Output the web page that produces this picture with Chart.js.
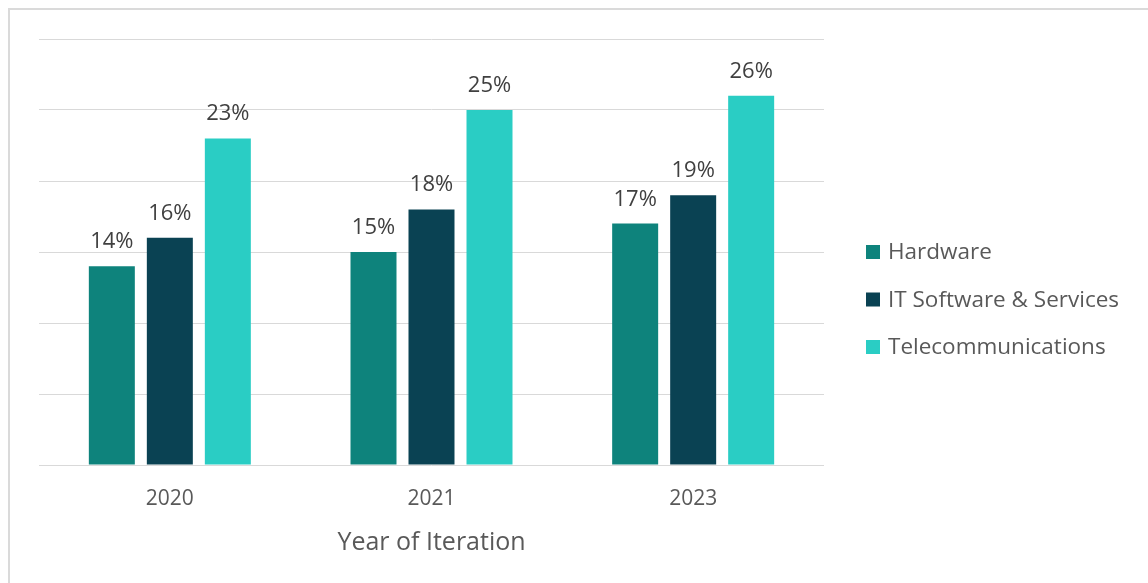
<!DOCTYPE html>
<html>
<head>
<meta charset="utf-8">
<script src="https://cdn.jsdelivr.net/npm/chart.js@4.4.1/dist/chart.umd.min.js"></script>
<style>
  html, body { margin: 0; padding: 0; background: #ffffff; }
  #wrap { position: relative; width: 1148px; height: 583px; overflow: hidden; }
  #frame { position: absolute; left: 8px; top: 8px; width: 1200px; height: 700px;
           border-top: 2px solid #dadada; border-left: 2px solid #dadada; box-sizing: border-box; }
  canvas { position: absolute; left: 0; top: 0; }
</style>
</head>
<body>
<div id="wrap">
  <div id="frame"></div>
  <canvas id="c" width="1148" height="583"></canvas>
</div>
<script>
const categories = ["2020", "2021", "2023"];
const seriesNames = ["Hardware", "IT Software & Services", "Telecommunications"];
const hardware = [14, 15, 17];
const itSoftware = [16, 18, 19];
const telecom = [23, 25, 26];
const seriesColors = ["#0E837C", "#0A4253", "#2ACDC4"];
const axisTitle = "Year of Iteration";

const FONT = "'Open Sans', 'Noto Sans', sans-serif";

const dataLabels = {
  id: 'dataLabels',
  afterDatasetsDraw(chart) {
    const ctx = chart.ctx;
    ctx.save();
    ctx.font = "22px " + FONT;
    ctx.fillStyle = "#404040";
    ctx.textAlign = "center";
    ctx.textBaseline = "alphabetic";
    chart.data.datasets.forEach((ds, di) => {
      const meta = chart.getDatasetMeta(di);
      meta.data.forEach((el, i) => {
        ctx.fillText(ds.data[i] + "%", el.x, el.y - 18);
      });
    });
    ctx.restore();
  }
};

const sideLegend = {
  id: 'sideLegend',
  afterDraw(chart) {
    const ctx = chart.ctx;
    const area = chart.chartArea;
    const x0 = area.right + 42;
    const yMid = (area.top + area.bottom) / 2;
    ctx.save();
    ctx.font = "22.5px " + FONT;
    ctx.textAlign = "left";
    ctx.textBaseline = "middle";
    chart.data.datasets.forEach((ds, i) => {
      const yc = yMid + i * 47.5;
      ctx.fillStyle = ds.backgroundColor;
      ctx.fillRect(x0, yc - 7, 14, 14);
      ctx.fillStyle = "#595959";
      ctx.fillText(ds.label, x0 + 22, yc + 1);
    });
    ctx.restore();
  }
};

const seriesData = [hardware, itSoftware, telecom];

new Chart(document.getElementById('c'), {
  type: 'bar',
  data: {
    labels: categories,
    datasets: seriesNames.map((name, i) => ({
      label: name,
      data: seriesData[i],
      backgroundColor: seriesColors[i],
      categoryPercentage: 0.665,
      barPercentage: 0.793
    }))
  },
  options: {
    responsive: false,
    animation: false,
    events: [],
    layout: { padding: { left: 39, top: 39, right: 324, bottom: 0 } },
    plugins: {
      legend: { display: false },
      tooltip: { enabled: false }
    },
    scales: {
      x: {
        grid: { display: false, drawTicks: false },
        border: { display: false },
        ticks: { color: "#595959", font: { family: FONT, size: 21 }, padding: 21 },
        title: { display: true, text: axisTitle, color: "#595959",
                 font: { family: FONT, size: 25 }, padding: { top: 0, bottom: 25 } },
        afterFit(scale) { scale.height = 118; }
      },
      y: {
        min: 0, max: 30,
        ticks: { display: false, stepSize: 5 },
        grid: { color: "#d9d9d9", lineWidth: 1, drawTicks: false },
        border: { display: false }
      }
    }
  },
  plugins: [dataLabels, sideLegend]
});
</script>
</body>
</html>
